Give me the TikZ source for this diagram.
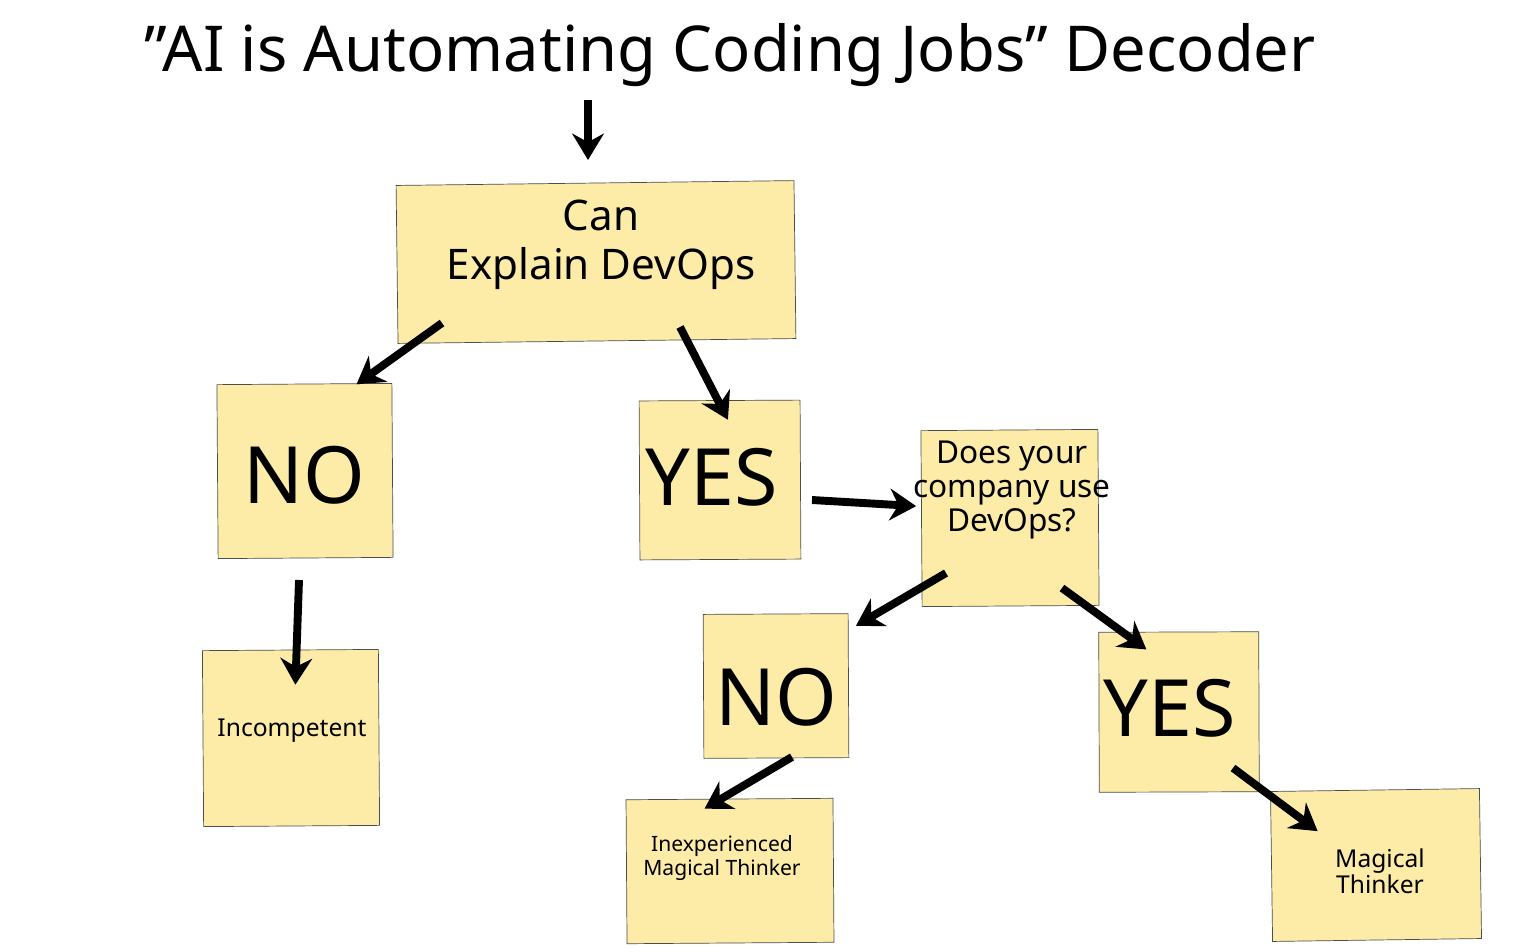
\documentclass[tikz,border=0pt]{standalone}
\usepackage{fontspec}
\setmainfont{Noto Sans}
\usetikzlibrary{arrows.meta}

\definecolor{postit}{HTML}{FDECA8}
\tikzset{
  note/.style={draw=black!70,thin,fill=postit,inner sep=0pt},
  fat/.style={line width=4.5pt,-{Stealth[length=15pt,width=18pt]}},
}

\begin{document}
\begin{tikzpicture}[x=0.02cm,y=-0.02cm]
  \useasboundingbox (0,0) rectangle (1521,951);
  \fill[white] (0,0) rectangle (1521,951);

  % title
  \node (title) at (730,55) {\fontsize{36}{40}\selectfont \symbol{34}AI is Automating Coding Jobs\symbol{34} Decoder};

  % sticky notes
  \node[note,minimum width=7.96cm,minimum height=3.16cm,rotate=0.7] (can) at (596,262) {};
  \node[note,minimum width=3.5cm,minimum height=3.48cm,rotate=0.4] (no) at (305,471) {};
  \node[note,minimum width=3.22cm,minimum height=3.18cm,rotate=0.3] (yes) at (720,480) {};
  \node[note,minimum width=3.54cm,minimum height=3.52cm,rotate=0.4] (does) at (1010,518) {};
  \node[note,minimum width=3.52cm,minimum height=3.52cm,rotate=0.4] (inc) at (291,738) {};
  \node[note,minimum width=2.9cm,minimum height=2.88cm,rotate=0.3] (no2) at (776,686) {};
  \node[note,minimum width=3.2cm,minimum height=3.2cm,rotate=0.2] (yes2) at (1179,712) {};
  \node[note,minimum width=4.14cm,minimum height=2.88cm,rotate=0.4] (inexp) at (730,871) {};
  \node[note,minimum width=4.18cm,minimum height=3.0cm,rotate=0.8] (magic) at (1376,865) {};

  % texts
  \node[align=center,font=\fontsize{24}{28}\selectfont] (cantxt) at (601,245) {Can\\ Explain DevOps};
  \node[font=\fontsize{45}{50}\selectfont] (notxt) at (304,475) {NO};
  \node[font=\fontsize{45}{50}\selectfont] (yestxt) at (712,477) {YES};
  \node[align=center,font=\fontsize{18}{19.5}\selectfont] (doestxt) at (1012,490) {Does your\\ company use\\ DevOps?};
  \node[font=\fontsize{14}{17}\selectfont] (inctxt) at (292,731) {Incompetent};
  \node[font=\fontsize{45}{50}\selectfont] (no2txt) at (776,697) {NO};
  \node[font=\fontsize{45}{50}\selectfont] (yes2txt) at (1170,708) {YES};
  \node[align=center,font=\fontsize{12}{13.5}\selectfont] (inexptxt) at (722,858) {Inexperienced\\ Magical Thinker};
  \node[align=center,font=\fontsize{14}{15}\selectfont] (magictxt) at (1380,871) {Magical\\ Thinker};

  % arrow tails
  \coordinate (t0) at (588,100);
  \coordinate (t1) at (442,323);
  \coordinate (t2) at (680,327);
  \coordinate (t3) at (812,500);
  \coordinate (t4) at (299,580);
  \coordinate (t5) at (946,573);
  \coordinate (t6) at (1062,588);
  \coordinate (t7) at (792,757);
  \coordinate (t8) at (1233,768);

  \draw[fat] (t0) -- (588,160);
  \draw[fat] (t1) -- ([xshift=2.8cm]no.north west);
  \draw[fat] (t2) -- ([xshift=-1.45cm,yshift=-0.4cm]yes.north east);
  \draw[fat] (t3) -- ([xshift=-0.1cm,yshift=0.25cm]does.west);
  \draw[fat] (t4) -- ([xshift=0.1cm,yshift=-0.7cm]inc.north);
  \draw[fat] (t5) -- ([xshift=0.15cm,yshift=-0.25cm]no2.north east);
  \draw[fat] (t6) -- ([xshift=0.96cm,yshift=-0.35cm]yes2.north west);
  \draw[fat] (t7) -- ([xshift=-0.5cm,yshift=-0.2cm]inexp.north);
  \draw[fat] (t8) -- ([xshift=0.95cm,yshift=-0.8cm]magic.north west);
\end{tikzpicture}
\end{document}
